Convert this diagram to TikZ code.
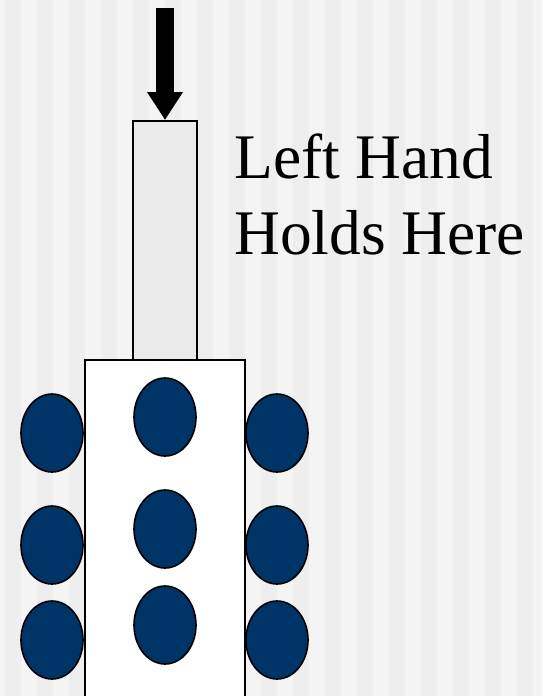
\documentclass[tikz,border=0pt]{standalone}
\usepackage{fontspec}
\setmainfont{Liberation Serif}
\usetikzlibrary{shapes.geometric,arrows.meta}

\definecolor{stripelight}{RGB}{244,244,244}
\definecolor{stripedark}{RGB}{238,238,238}
\definecolor{handlegray}{RGB}{234,234,234}
\definecolor{gripblue}{RGB}{0,51,102}

\begin{document}
\begin{tikzpicture}[
        x=1pt, y=-1pt,
        handlebox/.style={rectangle, draw=black, line width=2pt, fill=handlegray, minimum width=64pt, minimum height=239pt, inner sep=0pt},
        bodybox/.style={rectangle, draw=black, line width=2pt, fill=white, minimum width=160pt, minimum height=340pt, inner sep=0pt},
        grip/.style={ellipse, draw=black, line width=1.6pt, fill=gripblue, minimum width=62pt, minimum height=78pt, inner sep=0pt},
        pusharrow/.style={line width=18pt, -{Triangle[length=28pt, width=34pt]}, draw=black},
        label/.style={font=\fontsize{63.5}{76}\selectfont, align=left, inner sep=0pt}
    ]
        % Background stripes
        \useasboundingbox (0,0) rectangle (542,696);
        \fill[stripelight] (0,0) rectangle (542,696);
        \foreach \x in {5,37,...,517}
            \fill[stripedark] (\x,0) rectangle ++(16,696);

        % Handle and body
        \node[handlebox] (handle) at (165,240.5) {};
        \node[bodybox] (body) at (165,530) {};

        % Grips
        \node[grip] (gripL1) at (52,433) {};
        \node[grip] (gripL2) at (52,545) {};
        \node[grip] (gripL3) at (52,640) {};
        \node[grip] (gripC1) at (165,417) {};
        \node[grip] (gripC2) at (165,529) {};
        \node[grip] (gripC3) at (165,625) {};
        \node[grip] (gripR1) at (277,433) {};
        \node[grip] (gripR2) at (277,545) {};
        \node[grip] (gripR3) at (277,640) {};

        % Label
        \node[label, anchor=base west] (holdtext) at (234,254.3) {Left Hand\\Holds Here};

        % Push arrow
        \coordinate (push) at (165,8);
        \draw[pusharrow] (push) -- (handle.north);
    \end{tikzpicture}
\end{document}
